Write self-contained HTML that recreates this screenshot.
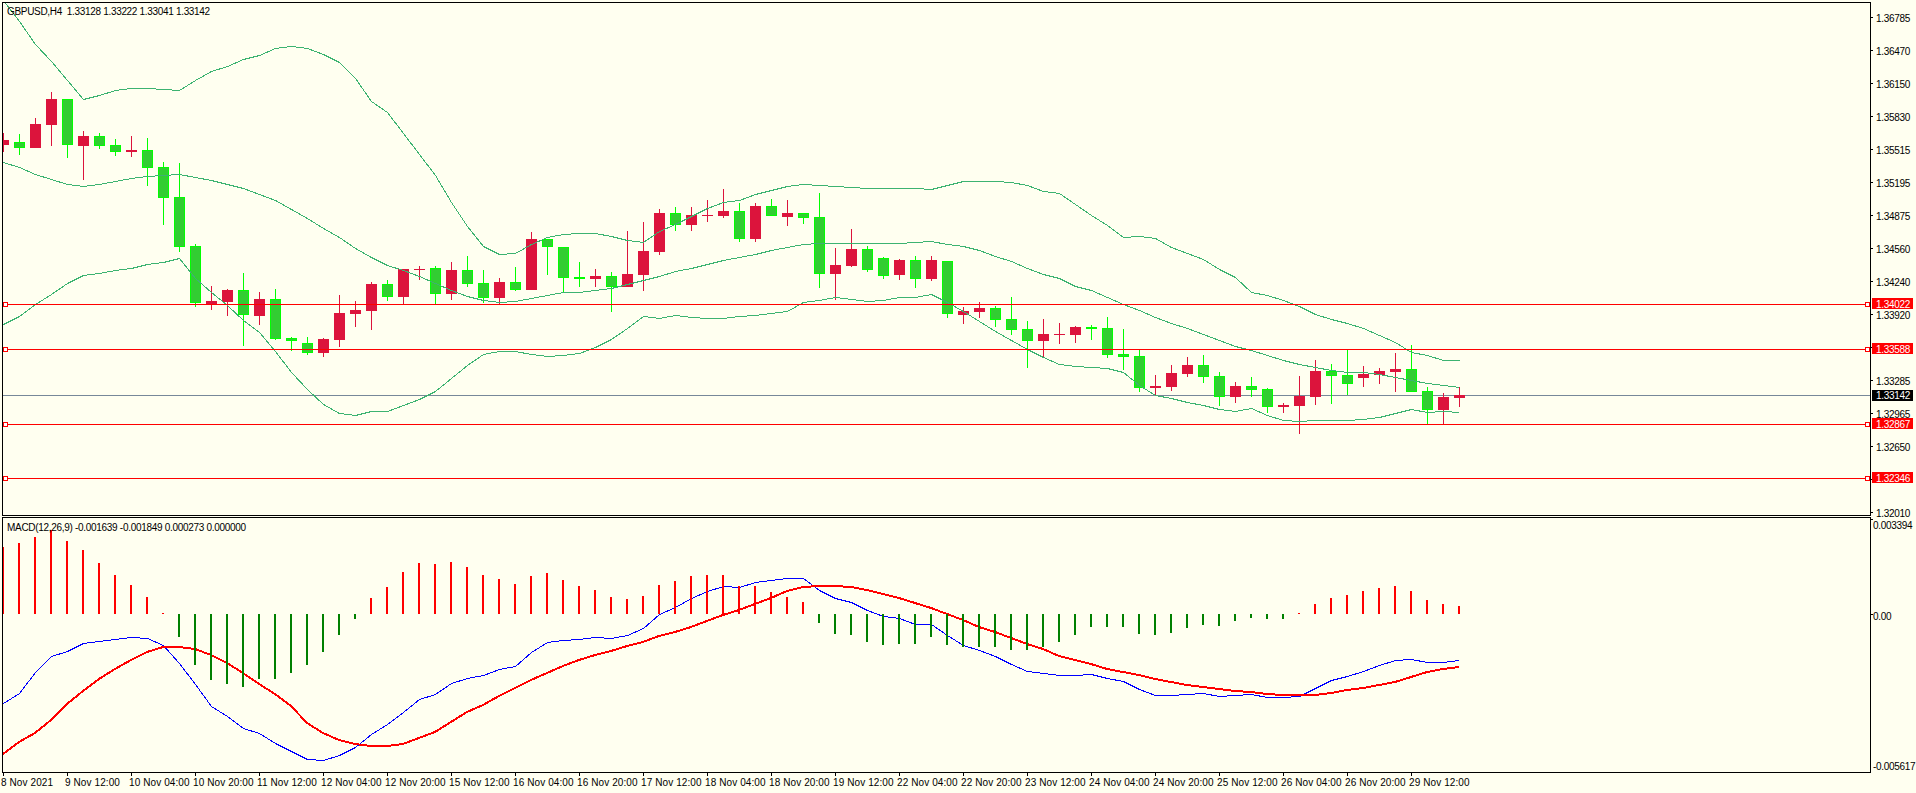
<!DOCTYPE html>
<html><head><meta charset="utf-8"><style>
html,body{margin:0;padding:0;background:#FFFFF0;width:1916px;height:793px;overflow:hidden;position:relative}
.t{position:absolute;font-family:"Liberation Sans",sans-serif;font-size:10px;line-height:12px;white-space:nowrap;letter-spacing:-0.3px}
.ax{letter-spacing:-0.3px}
.tm{letter-spacing:0.1px}
.hd{letter-spacing:-0.32px}
</style></head><body>
<svg width="1916" height="793" style="position:absolute;left:0;top:0"><defs><clipPath id="cm"><rect x="3" y="3" width="1867" height="512"/></clipPath><clipPath id="cd"><rect x="3" y="518" width="1867" height="254"/></clipPath></defs><g shape-rendering="crispEdges" fill="none" stroke="#000" stroke-width="1"><path d="M2.5 515.5V2.5H1870.5V515.5H2.5"/><path d="M2.5 772.5V517.5H1870.5V772.5H2.5"/></g><g clip-path="url(#cm)"><rect x="3" y="395" width="1867" height="1" fill="#778899" shape-rendering="crispEdges"/><g shape-rendering="crispEdges"><rect x="3" y="133" width="1" height="19" fill="#DC143C"/><rect x="-2" y="140" width="11" height="5" fill="#DC143C"/><rect x="-1" y="141" width="9" height="3" fill="#DC143C"/><rect x="19" y="134" width="1" height="21" fill="#00FF00"/><rect x="14" y="142" width="11" height="6" fill="#00FF00"/><rect x="15" y="143" width="9" height="4" fill="#32CD32"/><rect x="35" y="118" width="1" height="30" fill="#DC143C"/><rect x="30" y="124" width="11" height="24" fill="#DC143C"/><rect x="31" y="125" width="9" height="22" fill="#DC143C"/><rect x="51" y="92" width="1" height="54" fill="#DC143C"/><rect x="46" y="99" width="11" height="26" fill="#DC143C"/><rect x="47" y="100" width="9" height="24" fill="#DC143C"/><rect x="67" y="99" width="1" height="59" fill="#00FF00"/><rect x="62" y="99" width="11" height="46" fill="#00FF00"/><rect x="63" y="100" width="9" height="44" fill="#32CD32"/><rect x="83" y="131" width="1" height="49" fill="#DC143C"/><rect x="78" y="136" width="11" height="10" fill="#DC143C"/><rect x="79" y="137" width="9" height="8" fill="#DC143C"/><rect x="99" y="133" width="1" height="16" fill="#00FF00"/><rect x="94" y="136" width="11" height="10" fill="#00FF00"/><rect x="95" y="137" width="9" height="8" fill="#32CD32"/><rect x="115" y="139" width="1" height="17" fill="#00FF00"/><rect x="110" y="145" width="11" height="7" fill="#00FF00"/><rect x="111" y="146" width="9" height="5" fill="#32CD32"/><rect x="131" y="136" width="1" height="21" fill="#DC143C"/><rect x="126" y="150" width="11" height="2" fill="#DC143C"/><rect x="147" y="138" width="1" height="48" fill="#00FF00"/><rect x="142" y="150" width="11" height="18" fill="#00FF00"/><rect x="143" y="151" width="9" height="16" fill="#32CD32"/><rect x="163" y="162" width="1" height="63" fill="#00FF00"/><rect x="158" y="167" width="11" height="31" fill="#00FF00"/><rect x="159" y="168" width="9" height="29" fill="#32CD32"/><rect x="179" y="163" width="1" height="89" fill="#00FF00"/><rect x="174" y="197" width="11" height="50" fill="#00FF00"/><rect x="175" y="198" width="9" height="48" fill="#32CD32"/><rect x="195" y="244" width="1" height="63" fill="#00FF00"/><rect x="190" y="246" width="11" height="57" fill="#00FF00"/><rect x="191" y="247" width="9" height="55" fill="#32CD32"/><rect x="211" y="286" width="1" height="24" fill="#DC143C"/><rect x="206" y="301" width="11" height="3" fill="#DC143C"/><rect x="207" y="302" width="9" height="1" fill="#DC143C"/><rect x="227" y="289" width="1" height="27" fill="#DC143C"/><rect x="222" y="290" width="11" height="12" fill="#DC143C"/><rect x="223" y="291" width="9" height="10" fill="#DC143C"/><rect x="243" y="273" width="1" height="73" fill="#00FF00"/><rect x="238" y="290" width="11" height="25" fill="#00FF00"/><rect x="239" y="291" width="9" height="23" fill="#32CD32"/><rect x="259" y="292" width="1" height="33" fill="#DC143C"/><rect x="254" y="299" width="11" height="17" fill="#DC143C"/><rect x="255" y="300" width="9" height="15" fill="#DC143C"/><rect x="275" y="289" width="1" height="51" fill="#00FF00"/><rect x="270" y="299" width="11" height="40" fill="#00FF00"/><rect x="271" y="300" width="9" height="38" fill="#32CD32"/><rect x="291" y="337" width="1" height="14" fill="#00FF00"/><rect x="286" y="338" width="11" height="3" fill="#00FF00"/><rect x="287" y="339" width="9" height="1" fill="#32CD32"/><rect x="307" y="337" width="1" height="18" fill="#00FF00"/><rect x="302" y="343" width="11" height="10" fill="#00FF00"/><rect x="303" y="344" width="9" height="8" fill="#32CD32"/><rect x="323" y="338" width="1" height="19" fill="#DC143C"/><rect x="318" y="339" width="11" height="14" fill="#DC143C"/><rect x="319" y="340" width="9" height="12" fill="#DC143C"/><rect x="339" y="295" width="1" height="52" fill="#DC143C"/><rect x="334" y="313" width="11" height="27" fill="#DC143C"/><rect x="335" y="314" width="9" height="25" fill="#DC143C"/><rect x="355" y="301" width="1" height="26" fill="#DC143C"/><rect x="350" y="310" width="11" height="4" fill="#DC143C"/><rect x="351" y="311" width="9" height="2" fill="#DC143C"/><rect x="371" y="282" width="1" height="48" fill="#DC143C"/><rect x="366" y="284" width="11" height="27" fill="#DC143C"/><rect x="367" y="285" width="9" height="25" fill="#DC143C"/><rect x="387" y="280" width="1" height="21" fill="#00FF00"/><rect x="382" y="284" width="11" height="13" fill="#00FF00"/><rect x="383" y="285" width="9" height="11" fill="#32CD32"/><rect x="403" y="269" width="1" height="35" fill="#DC143C"/><rect x="398" y="269" width="11" height="28" fill="#DC143C"/><rect x="399" y="270" width="9" height="26" fill="#DC143C"/><rect x="419" y="266" width="1" height="14" fill="#DC143C"/><rect x="414" y="269" width="11" height="1" fill="#DC143C"/><rect x="435" y="266" width="1" height="38" fill="#00FF00"/><rect x="430" y="268" width="11" height="26" fill="#00FF00"/><rect x="431" y="269" width="9" height="24" fill="#32CD32"/><rect x="451" y="262" width="1" height="38" fill="#DC143C"/><rect x="446" y="270" width="11" height="24" fill="#DC143C"/><rect x="447" y="271" width="9" height="22" fill="#DC143C"/><rect x="467" y="256" width="1" height="31" fill="#00FF00"/><rect x="462" y="270" width="11" height="14" fill="#00FF00"/><rect x="463" y="271" width="9" height="12" fill="#32CD32"/><rect x="483" y="270" width="1" height="33" fill="#00FF00"/><rect x="478" y="283" width="11" height="15" fill="#00FF00"/><rect x="479" y="284" width="9" height="13" fill="#32CD32"/><rect x="499" y="278" width="1" height="26" fill="#DC143C"/><rect x="494" y="282" width="11" height="16" fill="#DC143C"/><rect x="495" y="283" width="9" height="14" fill="#DC143C"/><rect x="515" y="267" width="1" height="24" fill="#00FF00"/><rect x="510" y="282" width="11" height="8" fill="#00FF00"/><rect x="511" y="283" width="9" height="6" fill="#32CD32"/><rect x="531" y="232" width="1" height="58" fill="#DC143C"/><rect x="526" y="239" width="11" height="51" fill="#DC143C"/><rect x="527" y="240" width="9" height="49" fill="#DC143C"/><rect x="547" y="239" width="1" height="36" fill="#00FF00"/><rect x="542" y="239" width="11" height="8" fill="#00FF00"/><rect x="543" y="240" width="9" height="6" fill="#32CD32"/><rect x="563" y="247" width="1" height="46" fill="#00FF00"/><rect x="558" y="247" width="11" height="31" fill="#00FF00"/><rect x="559" y="248" width="9" height="29" fill="#32CD32"/><rect x="579" y="262" width="1" height="25" fill="#00FF00"/><rect x="574" y="277" width="11" height="2" fill="#00FF00"/><rect x="595" y="269" width="1" height="18" fill="#DC143C"/><rect x="590" y="276" width="11" height="3" fill="#DC143C"/><rect x="591" y="277" width="9" height="1" fill="#DC143C"/><rect x="611" y="272" width="1" height="40" fill="#00FF00"/><rect x="606" y="276" width="11" height="11" fill="#00FF00"/><rect x="607" y="277" width="9" height="9" fill="#32CD32"/><rect x="627" y="231" width="1" height="56" fill="#DC143C"/><rect x="622" y="274" width="11" height="13" fill="#DC143C"/><rect x="623" y="275" width="9" height="11" fill="#DC143C"/><rect x="643" y="222" width="1" height="69" fill="#DC143C"/><rect x="638" y="251" width="11" height="24" fill="#DC143C"/><rect x="639" y="252" width="9" height="22" fill="#DC143C"/><rect x="659" y="209" width="1" height="46" fill="#DC143C"/><rect x="654" y="213" width="11" height="39" fill="#DC143C"/><rect x="655" y="214" width="9" height="37" fill="#DC143C"/><rect x="675" y="207" width="1" height="24" fill="#00FF00"/><rect x="670" y="213" width="11" height="12" fill="#00FF00"/><rect x="671" y="214" width="9" height="10" fill="#32CD32"/><rect x="691" y="207" width="1" height="24" fill="#DC143C"/><rect x="686" y="215" width="11" height="10" fill="#DC143C"/><rect x="687" y="216" width="9" height="8" fill="#DC143C"/><rect x="707" y="200" width="1" height="22" fill="#DC143C"/><rect x="702" y="215" width="11" height="1" fill="#DC143C"/><rect x="723" y="189" width="1" height="29" fill="#DC143C"/><rect x="718" y="211" width="11" height="5" fill="#DC143C"/><rect x="719" y="212" width="9" height="3" fill="#DC143C"/><rect x="739" y="203" width="1" height="39" fill="#00FF00"/><rect x="734" y="211" width="11" height="28" fill="#00FF00"/><rect x="735" y="212" width="9" height="26" fill="#32CD32"/><rect x="755" y="203" width="1" height="39" fill="#DC143C"/><rect x="750" y="206" width="11" height="33" fill="#DC143C"/><rect x="751" y="207" width="9" height="31" fill="#DC143C"/><rect x="771" y="199" width="1" height="17" fill="#00FF00"/><rect x="766" y="206" width="11" height="10" fill="#00FF00"/><rect x="767" y="207" width="9" height="8" fill="#32CD32"/><rect x="787" y="200" width="1" height="26" fill="#DC143C"/><rect x="782" y="213" width="11" height="4" fill="#DC143C"/><rect x="783" y="214" width="9" height="2" fill="#DC143C"/><rect x="803" y="213" width="1" height="11" fill="#00FF00"/><rect x="798" y="213" width="11" height="5" fill="#00FF00"/><rect x="799" y="214" width="9" height="3" fill="#32CD32"/><rect x="819" y="193" width="1" height="95" fill="#00FF00"/><rect x="814" y="217" width="11" height="57" fill="#00FF00"/><rect x="815" y="218" width="9" height="55" fill="#32CD32"/><rect x="835" y="248" width="1" height="52" fill="#DC143C"/><rect x="830" y="265" width="11" height="9" fill="#DC143C"/><rect x="831" y="266" width="9" height="7" fill="#DC143C"/><rect x="851" y="229" width="1" height="38" fill="#DC143C"/><rect x="846" y="249" width="11" height="17" fill="#DC143C"/><rect x="847" y="250" width="9" height="15" fill="#DC143C"/><rect x="867" y="246" width="1" height="26" fill="#00FF00"/><rect x="862" y="249" width="11" height="21" fill="#00FF00"/><rect x="863" y="250" width="9" height="19" fill="#32CD32"/><rect x="883" y="257" width="1" height="22" fill="#00FF00"/><rect x="878" y="258" width="11" height="18" fill="#00FF00"/><rect x="879" y="259" width="9" height="16" fill="#32CD32"/><rect x="899" y="259" width="1" height="21" fill="#DC143C"/><rect x="894" y="260" width="11" height="15" fill="#DC143C"/><rect x="895" y="261" width="9" height="13" fill="#DC143C"/><rect x="915" y="256" width="1" height="32" fill="#00FF00"/><rect x="910" y="260" width="11" height="19" fill="#00FF00"/><rect x="911" y="261" width="9" height="17" fill="#32CD32"/><rect x="931" y="256" width="1" height="25" fill="#DC143C"/><rect x="926" y="260" width="11" height="19" fill="#DC143C"/><rect x="927" y="261" width="9" height="17" fill="#DC143C"/><rect x="947" y="261" width="1" height="57" fill="#00FF00"/><rect x="942" y="261" width="11" height="53" fill="#00FF00"/><rect x="943" y="262" width="9" height="51" fill="#32CD32"/><rect x="963" y="307" width="1" height="17" fill="#DC143C"/><rect x="958" y="311" width="11" height="4" fill="#DC143C"/><rect x="959" y="312" width="9" height="2" fill="#DC143C"/><rect x="979" y="302" width="1" height="16" fill="#DC143C"/><rect x="974" y="308" width="11" height="4" fill="#DC143C"/><rect x="975" y="309" width="9" height="2" fill="#DC143C"/><rect x="995" y="306" width="1" height="21" fill="#00FF00"/><rect x="990" y="308" width="11" height="12" fill="#00FF00"/><rect x="991" y="309" width="9" height="10" fill="#32CD32"/><rect x="1011" y="297" width="1" height="38" fill="#00FF00"/><rect x="1006" y="319" width="11" height="11" fill="#00FF00"/><rect x="1007" y="320" width="9" height="9" fill="#32CD32"/><rect x="1027" y="321" width="1" height="47" fill="#00FF00"/><rect x="1022" y="329" width="11" height="12" fill="#00FF00"/><rect x="1023" y="330" width="9" height="10" fill="#32CD32"/><rect x="1043" y="319" width="1" height="38" fill="#DC143C"/><rect x="1038" y="334" width="11" height="7" fill="#DC143C"/><rect x="1039" y="335" width="9" height="5" fill="#DC143C"/><rect x="1059" y="323" width="1" height="21" fill="#DC143C"/><rect x="1054" y="334" width="11" height="1" fill="#DC143C"/><rect x="1075" y="326" width="1" height="17" fill="#DC143C"/><rect x="1070" y="327" width="11" height="8" fill="#DC143C"/><rect x="1071" y="328" width="9" height="6" fill="#DC143C"/><rect x="1091" y="325" width="1" height="15" fill="#00FF00"/><rect x="1086" y="327" width="11" height="2" fill="#00FF00"/><rect x="1107" y="317" width="1" height="41" fill="#00FF00"/><rect x="1102" y="328" width="11" height="27" fill="#00FF00"/><rect x="1103" y="329" width="9" height="25" fill="#32CD32"/><rect x="1123" y="329" width="1" height="41" fill="#00FF00"/><rect x="1118" y="354" width="11" height="3" fill="#00FF00"/><rect x="1119" y="355" width="9" height="1" fill="#32CD32"/><rect x="1139" y="350" width="1" height="42" fill="#00FF00"/><rect x="1134" y="356" width="11" height="32" fill="#00FF00"/><rect x="1135" y="357" width="9" height="30" fill="#32CD32"/><rect x="1155" y="375" width="1" height="21" fill="#DC143C"/><rect x="1150" y="386" width="11" height="2" fill="#DC143C"/><rect x="1171" y="365" width="1" height="26" fill="#DC143C"/><rect x="1166" y="373" width="11" height="14" fill="#DC143C"/><rect x="1167" y="374" width="9" height="12" fill="#DC143C"/><rect x="1187" y="357" width="1" height="20" fill="#DC143C"/><rect x="1182" y="365" width="11" height="9" fill="#DC143C"/><rect x="1183" y="366" width="9" height="7" fill="#DC143C"/><rect x="1203" y="355" width="1" height="28" fill="#00FF00"/><rect x="1198" y="365" width="11" height="12" fill="#00FF00"/><rect x="1199" y="366" width="9" height="10" fill="#32CD32"/><rect x="1219" y="372" width="1" height="34" fill="#00FF00"/><rect x="1214" y="376" width="11" height="21" fill="#00FF00"/><rect x="1215" y="377" width="9" height="19" fill="#32CD32"/><rect x="1235" y="382" width="1" height="21" fill="#DC143C"/><rect x="1230" y="386" width="11" height="11" fill="#DC143C"/><rect x="1231" y="387" width="9" height="9" fill="#DC143C"/><rect x="1251" y="377" width="1" height="20" fill="#00FF00"/><rect x="1246" y="386" width="11" height="4" fill="#00FF00"/><rect x="1247" y="387" width="9" height="2" fill="#32CD32"/><rect x="1267" y="388" width="1" height="25" fill="#00FF00"/><rect x="1262" y="389" width="11" height="18" fill="#00FF00"/><rect x="1263" y="390" width="9" height="16" fill="#32CD32"/><rect x="1283" y="403" width="1" height="10" fill="#DC143C"/><rect x="1278" y="405" width="11" height="2" fill="#DC143C"/><rect x="1299" y="376" width="1" height="58" fill="#DC143C"/><rect x="1294" y="396" width="11" height="10" fill="#DC143C"/><rect x="1295" y="397" width="9" height="8" fill="#DC143C"/><rect x="1315" y="360" width="1" height="45" fill="#DC143C"/><rect x="1310" y="371" width="11" height="26" fill="#DC143C"/><rect x="1311" y="372" width="9" height="24" fill="#DC143C"/><rect x="1331" y="364" width="1" height="40" fill="#00FF00"/><rect x="1326" y="371" width="11" height="5" fill="#00FF00"/><rect x="1327" y="372" width="9" height="3" fill="#32CD32"/><rect x="1347" y="350" width="1" height="45" fill="#00FF00"/><rect x="1342" y="375" width="11" height="9" fill="#00FF00"/><rect x="1343" y="376" width="9" height="7" fill="#32CD32"/><rect x="1363" y="366" width="1" height="21" fill="#DC143C"/><rect x="1358" y="374" width="11" height="4" fill="#DC143C"/><rect x="1359" y="375" width="9" height="2" fill="#DC143C"/><rect x="1379" y="368" width="1" height="16" fill="#DC143C"/><rect x="1374" y="371" width="11" height="4" fill="#DC143C"/><rect x="1375" y="372" width="9" height="2" fill="#DC143C"/><rect x="1395" y="353" width="1" height="39" fill="#DC143C"/><rect x="1390" y="369" width="11" height="3" fill="#DC143C"/><rect x="1391" y="370" width="9" height="1" fill="#DC143C"/><rect x="1411" y="345" width="1" height="47" fill="#00FF00"/><rect x="1406" y="369" width="11" height="23" fill="#00FF00"/><rect x="1407" y="370" width="9" height="21" fill="#32CD32"/><rect x="1427" y="387" width="1" height="37" fill="#00FF00"/><rect x="1422" y="391" width="11" height="19" fill="#00FF00"/><rect x="1423" y="392" width="9" height="17" fill="#32CD32"/><rect x="1443" y="393" width="1" height="31" fill="#DC143C"/><rect x="1438" y="397" width="11" height="13" fill="#DC143C"/><rect x="1439" y="398" width="9" height="11" fill="#DC143C"/><rect x="1459" y="387" width="1" height="20" fill="#DC143C"/><rect x="1454" y="395" width="11" height="3" fill="#DC143C"/><rect x="1455" y="396" width="9" height="1" fill="#DC143C"/></g><polyline points="3.5,0.5 19.5,21.5 35.5,44.5 51.5,61.5 67.5,80.5 83.5,99.5 99.5,95.5 115.5,90.5 131.5,88.5 147.5,88.5 163.5,89.5 179.5,90.5 195.5,80.5 211.5,71.5 227.5,66.5 243.5,59.5 259.5,55.5 275.5,48.5 291.5,46.5 307.5,48.5 323.5,54.5 339.5,62.5 355.5,78.5 371.5,101.5 387.5,112.5 403.5,133.5 419.5,154.5 435.5,175.5 451.5,202.5 467.5,226.5 483.5,246.5 499.5,254.5 515.5,253.5 531.5,244.5 547.5,237.5 563.5,234.5 579.5,233.5 595.5,233.5 611.5,236.5 627.5,240.5 643.5,242.5 659.5,231.5 675.5,224.5 691.5,216.5 707.5,208.5 723.5,202.5 739.5,200.5 755.5,194.5 771.5,190.5 787.5,186.5 803.5,184.5 819.5,185.5 835.5,186.5 851.5,187.5 867.5,188.5 883.5,188.5 899.5,188.5 915.5,188.5 931.5,189.5 947.5,185.5 963.5,181.5 979.5,181.5 995.5,181.5 1011.5,182.5 1027.5,185.5 1043.5,191.5 1059.5,193.5 1075.5,204.5 1091.5,215.5 1107.5,225.5 1123.5,237.5 1139.5,236.5 1155.5,238.5 1171.5,247.5 1187.5,253.5 1203.5,259.5 1219.5,269.5 1235.5,277.5 1251.5,292.5 1267.5,295.5 1283.5,300.5 1299.5,306.5 1315.5,314.5 1331.5,319.5 1347.5,323.5 1363.5,328.5 1379.5,335.5 1395.5,342.5 1411.5,352.5 1427.5,355.5 1443.5,360.5 1459.5,360.5" fill="none" stroke="#3CB371" stroke-width="1" stroke-linejoin="round" shape-rendering="crispEdges"/><polyline points="3.5,162.5 19.5,167.5 35.5,174.5 51.5,179.5 67.5,184.5 83.5,186.5 99.5,184.5 115.5,181.5 131.5,178.5 147.5,176.5 163.5,175.5 179.5,174.5 195.5,177.5 211.5,180.5 227.5,184.5 243.5,188.5 259.5,194.5 275.5,200.5 291.5,209.5 307.5,218.5 323.5,228.5 339.5,237.5 355.5,248.5 371.5,257.5 387.5,265.5 403.5,270.5 419.5,276.5 435.5,283.5 451.5,290.5 467.5,296.5 483.5,300.5 499.5,302.5 515.5,301.5 531.5,298.5 547.5,295.5 563.5,292.5 579.5,292.5 595.5,290.5 611.5,288.5 627.5,284.5 643.5,280.5 659.5,276.5 675.5,271.5 691.5,268.5 707.5,264.5 723.5,260.5 739.5,257.5 755.5,254.5 771.5,250.5 787.5,247.5 803.5,244.5 819.5,243.5 835.5,243.5 851.5,243.5 867.5,243.5 883.5,243.5 899.5,243.5 915.5,242.5 931.5,241.5 947.5,244.5 963.5,246.5 979.5,250.5 995.5,256.5 1011.5,261.5 1027.5,268.5 1043.5,274.5 1059.5,278.5 1075.5,286.5 1091.5,290.5 1107.5,297.5 1123.5,304.5 1139.5,310.5 1155.5,317.5 1171.5,323.5 1187.5,328.5 1203.5,334.5 1219.5,340.5 1235.5,346.5 1251.5,350.5 1267.5,355.5 1283.5,360.5 1299.5,364.5 1315.5,367.5 1331.5,370.5 1347.5,372.5 1363.5,372.5 1379.5,374.5 1395.5,377.5 1411.5,380.5 1427.5,383.5 1443.5,385.5 1459.5,387.5" fill="none" stroke="#3CB371" stroke-width="1" stroke-linejoin="round" shape-rendering="crispEdges"/><polyline points="3.5,324.5 19.5,316.5 35.5,304.5 51.5,294.5 67.5,283.5 83.5,275.5 99.5,273.5 115.5,270.5 131.5,268.5 147.5,264.5 163.5,262.5 179.5,258.5 195.5,278.5 211.5,292.5 227.5,305.5 243.5,320.5 259.5,332.5 275.5,351.5 291.5,372.5 307.5,389.5 323.5,404.5 339.5,413.5 355.5,415.5 371.5,411.5 387.5,411.5 403.5,405.5 419.5,399.5 435.5,391.5 451.5,378.5 467.5,365.5 483.5,354.5 499.5,351.5 515.5,351.5 531.5,354.5 547.5,356.5 563.5,355.5 579.5,353.5 595.5,347.5 611.5,339.5 627.5,328.5 643.5,316.5 659.5,318.5 675.5,315.5 691.5,317.5 707.5,318.5 723.5,318.5 739.5,316.5 755.5,315.5 771.5,313.5 787.5,311.5 803.5,302.5 819.5,300.5 835.5,297.5 851.5,299.5 867.5,301.5 883.5,300.5 899.5,297.5 915.5,297.5 931.5,294.5 947.5,302.5 963.5,311.5 979.5,321.5 995.5,331.5 1011.5,340.5 1027.5,349.5 1043.5,357.5 1059.5,364.5 1075.5,366.5 1091.5,367.5 1107.5,368.5 1123.5,372.5 1139.5,385.5 1155.5,395.5 1171.5,398.5 1187.5,402.5 1203.5,405.5 1219.5,409.5 1235.5,411.5 1251.5,408.5 1267.5,415.5 1283.5,420.5 1299.5,421.5 1315.5,420.5 1331.5,420.5 1347.5,420.5 1363.5,419.5 1379.5,417.5 1395.5,413.5 1411.5,409.5 1427.5,412.5 1443.5,411.5 1459.5,412.5" fill="none" stroke="#3CB371" stroke-width="1" stroke-linejoin="round" shape-rendering="crispEdges"/><g shape-rendering="crispEdges"><rect x="3" y="304" width="1867" height="1" fill="#FF0000"/><rect x="3" y="349" width="1867" height="1" fill="#FF0000"/><rect x="3" y="424" width="1867" height="1" fill="#FF0000"/><rect x="3" y="478" width="1867" height="1" fill="#FF0000"/></g></g><g shape-rendering="crispEdges" fill="#FFFFFF" stroke="#FF0000" stroke-width="1"><rect x="3.5" y="302.5" width="4" height="4"/><rect x="1865.5" y="302.5" width="4" height="4"/><rect x="3.5" y="347.5" width="4" height="4"/><rect x="1865.5" y="347.5" width="4" height="4"/><rect x="3.5" y="422.5" width="4" height="4"/><rect x="1865.5" y="422.5" width="4" height="4"/><rect x="3.5" y="476.5" width="4" height="4"/><rect x="1865.5" y="476.5" width="4" height="4"/></g><g clip-path="url(#cd)"><polyline points="3.5,703.5 19.5,693.5 35.5,672.5 51.5,656.5 67.5,651.5 83.5,643.5 99.5,641.5 115.5,639.5 131.5,637.5 147.5,638.5 163.5,645.5 179.5,663.5 195.5,684.5 211.5,706.5 227.5,716.5 243.5,728.5 259.5,733.5 275.5,743.5 291.5,751.5 307.5,759.5 323.5,760.5 339.5,755.5 355.5,747.5 371.5,734.5 387.5,724.5 403.5,712.5 419.5,699.5 435.5,694.5 451.5,683.5 467.5,678.5 483.5,675.5 499.5,669.5 515.5,666.5 531.5,652.5 547.5,642.5 563.5,640.5 579.5,639.5 595.5,637.5 611.5,638.5 627.5,635.5 643.5,628.5 659.5,614.5 675.5,607.5 691.5,598.5 707.5,591.5 723.5,586.5 739.5,587.5 755.5,582.5 771.5,580.5 787.5,578.5 803.5,578.5 819.5,590.5 835.5,598.5 851.5,602.5 867.5,610.5 883.5,616.5 899.5,618.5 915.5,624.5 931.5,624.5 947.5,635.5 963.5,645.5 979.5,650.5 995.5,656.5 1011.5,664.5 1027.5,671.5 1043.5,673.5 1059.5,675.5 1075.5,675.5 1091.5,674.5 1107.5,678.5 1123.5,681.5 1139.5,689.5 1155.5,695.5 1171.5,695.5 1187.5,694.5 1203.5,693.5 1219.5,696.5 1235.5,695.5 1251.5,694.5 1267.5,697.5 1283.5,697.5 1299.5,696.5 1315.5,688.5 1331.5,680.5 1347.5,676.5 1363.5,671.5 1379.5,665.5 1395.5,660.5 1411.5,659.5 1427.5,662.5 1443.5,662.5 1459.5,660.5" fill="none" stroke="#0000FF" stroke-width="1" stroke-linejoin="round" shape-rendering="crispEdges"/><polyline points="3.0,754.0 19.0,742.0 35.0,733.0 51.0,720.0 67.0,704.0 83.0,691.0 99.0,679.0 115.0,669.0 131.0,660.0 147.0,652.0 163.0,647.0 179.0,647.0 195.0,649.0 211.0,655.0 227.0,663.0 243.0,673.0 259.0,684.0 275.0,694.0 291.0,706.0 307.0,723.0 323.0,733.0 339.0,740.0 355.0,744.0 371.0,746.0 387.0,746.0 403.0,744.0 419.0,738.0 435.0,732.0 451.0,722.0 467.0,712.0 483.0,705.0 499.0,696.0 515.0,688.0 531.0,680.0 547.0,673.0 563.0,666.0 579.0,660.0 595.0,655.0 611.0,651.0 627.0,646.0 643.0,642.0 659.0,636.0 675.0,632.0 691.0,627.0 707.0,621.0 723.0,615.0 739.0,610.0 755.0,604.0 771.0,598.0 787.0,591.0 803.0,587.0 819.0,586.0 835.0,586.0 851.0,587.0 867.0,590.0 883.0,594.0 899.0,598.0 915.0,603.0 931.0,608.0 947.0,614.0 963.0,620.0 979.0,627.0 995.0,632.0 1011.0,638.0 1027.0,644.0 1043.0,649.0 1059.0,656.0 1075.0,660.0 1091.0,664.0 1107.0,669.0 1123.0,672.0 1139.0,675.0 1155.0,679.0 1171.0,682.0 1187.0,685.0 1203.0,687.0 1219.0,689.0 1235.0,691.0 1251.0,692.0 1267.0,694.0 1283.0,695.0 1299.0,695.0 1315.0,695.0 1331.0,693.0 1347.0,690.0 1363.0,688.0 1379.0,685.0 1395.0,682.0 1411.0,677.0 1427.0,672.0 1443.0,669.0 1459.0,667.0" fill="none" stroke="#FF0000" stroke-width="2" stroke-linejoin="round" shape-rendering="crispEdges"/><g shape-rendering="crispEdges"><rect x="2" y="547" width="2" height="67" fill="#FF0000"/><rect x="18" y="543" width="2" height="71" fill="#FF0000"/><rect x="34" y="537" width="2" height="77" fill="#FF0000"/><rect x="50" y="530" width="2" height="84" fill="#FF0000"/><rect x="66" y="541" width="2" height="73" fill="#FF0000"/><rect x="82" y="550" width="2" height="64" fill="#FF0000"/><rect x="98" y="563" width="2" height="51" fill="#FF0000"/><rect x="114" y="575" width="2" height="39" fill="#FF0000"/><rect x="130" y="585" width="2" height="29" fill="#FF0000"/><rect x="146" y="597" width="2" height="17" fill="#FF0000"/><rect x="162" y="613" width="2" height="1" fill="#FF0000"/><rect x="178" y="614" width="2" height="23" fill="#008000"/><rect x="194" y="614" width="2" height="51" fill="#008000"/><rect x="210" y="614" width="2" height="66" fill="#008000"/><rect x="226" y="614" width="2" height="70" fill="#008000"/><rect x="242" y="614" width="2" height="73" fill="#008000"/><rect x="258" y="614" width="2" height="65" fill="#008000"/><rect x="274" y="614" width="2" height="65" fill="#008000"/><rect x="290" y="614" width="2" height="59" fill="#008000"/><rect x="306" y="614" width="2" height="51" fill="#008000"/><rect x="322" y="614" width="2" height="38" fill="#008000"/><rect x="338" y="614" width="2" height="21" fill="#008000"/><rect x="354" y="614" width="2" height="5" fill="#008000"/><rect x="370" y="598" width="2" height="16" fill="#FF0000"/><rect x="386" y="587" width="2" height="27" fill="#FF0000"/><rect x="402" y="572" width="2" height="42" fill="#FF0000"/><rect x="418" y="563" width="2" height="51" fill="#FF0000"/><rect x="434" y="564" width="2" height="50" fill="#FF0000"/><rect x="450" y="562" width="2" height="52" fill="#FF0000"/><rect x="466" y="567" width="2" height="47" fill="#FF0000"/><rect x="482" y="575" width="2" height="39" fill="#FF0000"/><rect x="498" y="579" width="2" height="35" fill="#FF0000"/><rect x="514" y="584" width="2" height="30" fill="#FF0000"/><rect x="530" y="576" width="2" height="38" fill="#FF0000"/><rect x="546" y="573" width="2" height="41" fill="#FF0000"/><rect x="562" y="580" width="2" height="34" fill="#FF0000"/><rect x="578" y="586" width="2" height="28" fill="#FF0000"/><rect x="594" y="590" width="2" height="24" fill="#FF0000"/><rect x="610" y="597" width="2" height="17" fill="#FF0000"/><rect x="626" y="599" width="2" height="15" fill="#FF0000"/><rect x="642" y="596" width="2" height="18" fill="#FF0000"/><rect x="658" y="585" width="2" height="29" fill="#FF0000"/><rect x="674" y="581" width="2" height="33" fill="#FF0000"/><rect x="690" y="576" width="2" height="38" fill="#FF0000"/><rect x="706" y="575" width="2" height="39" fill="#FF0000"/><rect x="722" y="575" width="2" height="39" fill="#FF0000"/><rect x="738" y="586" width="2" height="28" fill="#FF0000"/><rect x="754" y="586" width="2" height="28" fill="#FF0000"/><rect x="770" y="592" width="2" height="22" fill="#FF0000"/><rect x="786" y="597" width="2" height="17" fill="#FF0000"/><rect x="802" y="602" width="2" height="12" fill="#FF0000"/><rect x="818" y="614" width="2" height="9" fill="#008000"/><rect x="834" y="614" width="2" height="20" fill="#008000"/><rect x="850" y="614" width="2" height="21" fill="#008000"/><rect x="866" y="614" width="2" height="28" fill="#008000"/><rect x="882" y="614" width="2" height="31" fill="#008000"/><rect x="898" y="614" width="2" height="30" fill="#008000"/><rect x="914" y="614" width="2" height="30" fill="#008000"/><rect x="930" y="614" width="2" height="23" fill="#008000"/><rect x="946" y="614" width="2" height="31" fill="#008000"/><rect x="962" y="614" width="2" height="33" fill="#008000"/><rect x="978" y="614" width="2" height="33" fill="#008000"/><rect x="994" y="614" width="2" height="33" fill="#008000"/><rect x="1010" y="614" width="2" height="36" fill="#008000"/><rect x="1026" y="614" width="2" height="36" fill="#008000"/><rect x="1042" y="614" width="2" height="33" fill="#008000"/><rect x="1058" y="614" width="2" height="28" fill="#008000"/><rect x="1074" y="614" width="2" height="21" fill="#008000"/><rect x="1090" y="614" width="2" height="13" fill="#008000"/><rect x="1106" y="614" width="2" height="13" fill="#008000"/><rect x="1122" y="614" width="2" height="13" fill="#008000"/><rect x="1138" y="614" width="2" height="20" fill="#008000"/><rect x="1154" y="614" width="2" height="21" fill="#008000"/><rect x="1170" y="614" width="2" height="19" fill="#008000"/><rect x="1186" y="614" width="2" height="14" fill="#008000"/><rect x="1202" y="614" width="2" height="11" fill="#008000"/><rect x="1218" y="614" width="2" height="12" fill="#008000"/><rect x="1234" y="614" width="2" height="7" fill="#008000"/><rect x="1250" y="614" width="2" height="4" fill="#008000"/><rect x="1266" y="614" width="2" height="5" fill="#008000"/><rect x="1282" y="614" width="2" height="5" fill="#008000"/><rect x="1298" y="613" width="2" height="1" fill="#FF0000"/><rect x="1314" y="604" width="2" height="10" fill="#FF0000"/><rect x="1330" y="598" width="2" height="16" fill="#FF0000"/><rect x="1346" y="595" width="2" height="19" fill="#FF0000"/><rect x="1362" y="591" width="2" height="23" fill="#FF0000"/><rect x="1378" y="588" width="2" height="26" fill="#FF0000"/><rect x="1394" y="586" width="2" height="28" fill="#FF0000"/><rect x="1410" y="591" width="2" height="23" fill="#FF0000"/><rect x="1426" y="600" width="2" height="14" fill="#FF0000"/><rect x="1442" y="604" width="2" height="10" fill="#FF0000"/><rect x="1458" y="606" width="2" height="8" fill="#FF0000"/></g></g><g shape-rendering="crispEdges" fill="#000"><rect x="1871" y="17" width="2" height="1"/><rect x="1871" y="50" width="2" height="1"/><rect x="1871" y="83" width="2" height="1"/><rect x="1871" y="116" width="2" height="1"/><rect x="1871" y="149" width="2" height="1"/><rect x="1871" y="182" width="2" height="1"/><rect x="1871" y="215" width="2" height="1"/><rect x="1871" y="248" width="2" height="1"/><rect x="1871" y="281" width="2" height="1"/><rect x="1871" y="314" width="2" height="1"/><rect x="1871" y="347" width="2" height="1"/><rect x="1871" y="380" width="2" height="1"/><rect x="1871" y="413" width="2" height="1"/><rect x="1871" y="446" width="2" height="1"/><rect x="1871" y="479" width="2" height="1"/><rect x="1871" y="512" width="2" height="1"/><rect x="1871" y="519" width="2" height="1"/><rect x="1871" y="614" width="2" height="1"/><rect x="3" y="773" width="1" height="3"/><rect x="67" y="773" width="1" height="3"/><rect x="131" y="773" width="1" height="3"/><rect x="195" y="773" width="1" height="3"/><rect x="259" y="773" width="1" height="3"/><rect x="323" y="773" width="1" height="3"/><rect x="387" y="773" width="1" height="3"/><rect x="451" y="773" width="1" height="3"/><rect x="515" y="773" width="1" height="3"/><rect x="579" y="773" width="1" height="3"/><rect x="643" y="773" width="1" height="3"/><rect x="707" y="773" width="1" height="3"/><rect x="771" y="773" width="1" height="3"/><rect x="835" y="773" width="1" height="3"/><rect x="899" y="773" width="1" height="3"/><rect x="963" y="773" width="1" height="3"/><rect x="1027" y="773" width="1" height="3"/><rect x="1091" y="773" width="1" height="3"/><rect x="1155" y="773" width="1" height="3"/><rect x="1219" y="773" width="1" height="3"/><rect x="1283" y="773" width="1" height="3"/><rect x="1347" y="773" width="1" height="3"/><rect x="1411" y="773" width="1" height="3"/></g><g shape-rendering="crispEdges"><rect x="1872" y="298" width="41" height="11" fill="#FF0000"/><rect x="1872" y="343" width="41" height="11" fill="#FF0000"/><rect x="1872" y="418" width="41" height="11" fill="#FF0000"/><rect x="1872" y="472" width="41" height="11" fill="#FF0000"/><rect x="1872" y="390" width="41" height="11" fill="#000000"/></g></svg>
<div class="t hd" style="left:7px;top:6px;color:#000">GBPUSD,H4&nbsp;&nbsp;1.33128 1.33222 1.33041 1.33142</div><div class="t" style="left:7px;top:522px;color:#000">MACD(12,26,9) -0.001639 -0.001849 0.000273 0.000000</div><div class="t ax" style="left:1876px;top:13px;color:#000">1.36785</div><div class="t ax" style="left:1876px;top:46px;color:#000">1.36470</div><div class="t ax" style="left:1876px;top:79px;color:#000">1.36150</div><div class="t ax" style="left:1876px;top:112px;color:#000">1.35830</div><div class="t ax" style="left:1876px;top:145px;color:#000">1.35515</div><div class="t ax" style="left:1876px;top:178px;color:#000">1.35195</div><div class="t ax" style="left:1876px;top:211px;color:#000">1.34875</div><div class="t ax" style="left:1876px;top:244px;color:#000">1.34560</div><div class="t ax" style="left:1876px;top:277px;color:#000">1.34240</div><div class="t ax" style="left:1876px;top:310px;color:#000">1.33920</div><div class="t ax" style="left:1876px;top:376px;color:#000">1.33285</div><div class="t ax" style="left:1876px;top:409px;color:#000">1.32965</div><div class="t ax" style="left:1876px;top:442px;color:#000">1.32650</div><div class="t ax" style="left:1876px;top:508px;color:#000">1.32010</div><div class="t ax" style="left:1876px;top:299px;color:#FFFFFF">1.34022</div><div class="t ax" style="left:1876px;top:344px;color:#FFFFFF">1.33588</div><div class="t ax" style="left:1876px;top:419px;color:#FFFFFF">1.32867</div><div class="t ax" style="left:1876px;top:473px;color:#FFFFFF">1.32346</div><div class="t ax" style="left:1876px;top:390px;color:#FFFFFF">1.33142</div><div class="t ax" style="left:1873px;top:520px;color:#000">0.003394</div><div class="t ax" style="left:1873px;top:611px;color:#000">0.00</div><div class="t ax" style="left:1873px;top:761px;color:#000">-0.005617</div><div class="t tm" style="left:1px;top:777px;color:#000">8 Nov 2021</div><div class="t tm" style="left:65px;top:777px;color:#000">9 Nov 12:00</div><div class="t tm" style="left:129px;top:777px;color:#000">10 Nov 04:00</div><div class="t tm" style="left:193px;top:777px;color:#000">10 Nov 20:00</div><div class="t tm" style="left:257px;top:777px;color:#000">11 Nov 12:00</div><div class="t tm" style="left:321px;top:777px;color:#000">12 Nov 04:00</div><div class="t tm" style="left:385px;top:777px;color:#000">12 Nov 20:00</div><div class="t tm" style="left:449px;top:777px;color:#000">15 Nov 12:00</div><div class="t tm" style="left:513px;top:777px;color:#000">16 Nov 04:00</div><div class="t tm" style="left:577px;top:777px;color:#000">16 Nov 20:00</div><div class="t tm" style="left:641px;top:777px;color:#000">17 Nov 12:00</div><div class="t tm" style="left:705px;top:777px;color:#000">18 Nov 04:00</div><div class="t tm" style="left:769px;top:777px;color:#000">18 Nov 20:00</div><div class="t tm" style="left:833px;top:777px;color:#000">19 Nov 12:00</div><div class="t tm" style="left:897px;top:777px;color:#000">22 Nov 04:00</div><div class="t tm" style="left:961px;top:777px;color:#000">22 Nov 20:00</div><div class="t tm" style="left:1025px;top:777px;color:#000">23 Nov 12:00</div><div class="t tm" style="left:1089px;top:777px;color:#000">24 Nov 04:00</div><div class="t tm" style="left:1153px;top:777px;color:#000">24 Nov 20:00</div><div class="t tm" style="left:1217px;top:777px;color:#000">25 Nov 12:00</div><div class="t tm" style="left:1281px;top:777px;color:#000">26 Nov 04:00</div><div class="t tm" style="left:1345px;top:777px;color:#000">26 Nov 20:00</div><div class="t tm" style="left:1409px;top:777px;color:#000">29 Nov 12:00</div>
</body></html>
